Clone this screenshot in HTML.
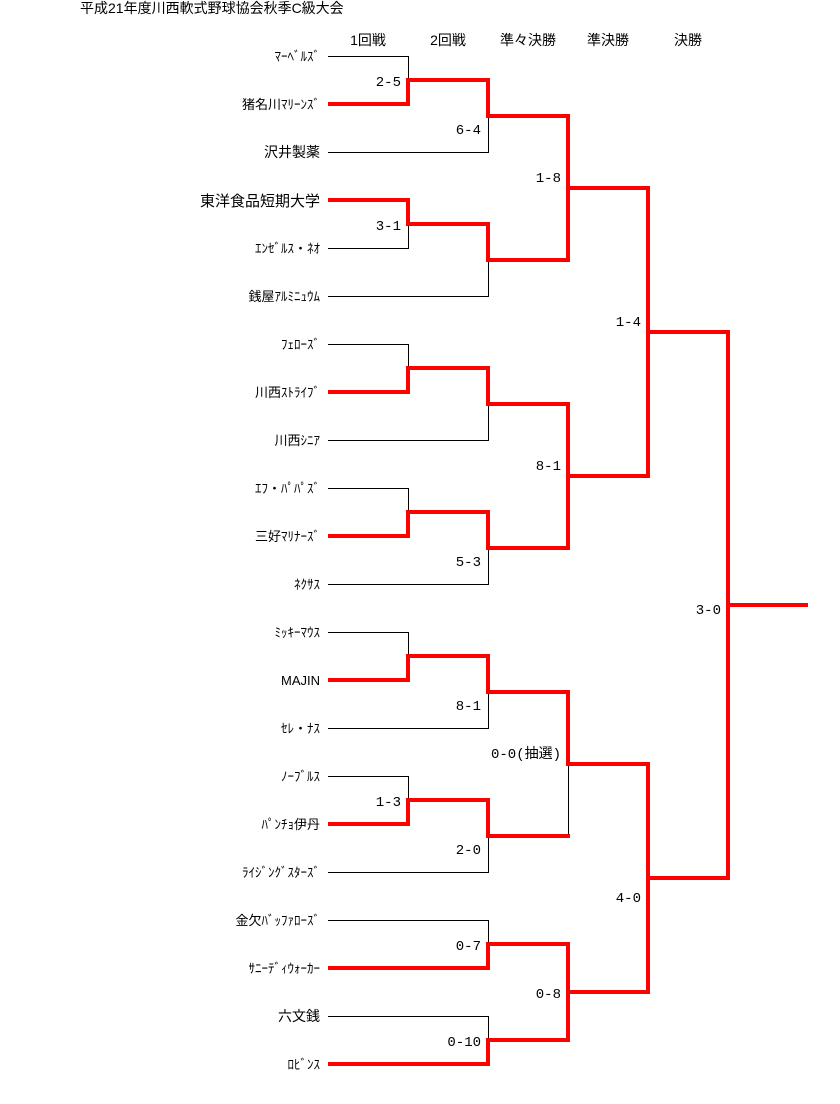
<!DOCTYPE html>
<html><head><meta charset="utf-8"><style>
html,body{margin:0;padding:0;background:#fff;width:840px;height:1104px;overflow:hidden}
text{font-family:"Liberation Sans","Noto Sans CJK JP",sans-serif;fill:#000}
.m text{font-family:"Liberation Mono","Noto Sans CJK JP",monospace}
</style></head><body>
<svg width="840" height="1104" xmlns="http://www.w3.org/2000/svg">
<text x="80" y="13" font-size="14">平成21年度川西軟式野球協会秋季C級大会</text>
<g font-size="14" text-anchor="middle">
<text x="368" y="45">1回戦</text><text x="448" y="45">2回戦</text><text x="528" y="45">準々決勝</text><text x="608" y="45">準決勝</text><text x="688" y="45">決勝</text>
</g>
<g font-size="13" text-anchor="end">
<text x="320" y="61">ﾏｰﾍﾞﾙｽﾞ</text>
<text x="320" y="109">猪名川ﾏﾘｰﾝｽﾞ</text>
<text x="320" y="157" font-size="14">沢井製薬</text>
<text x="320" y="206" font-size="15">東洋食品短期大学</text>
<text x="320" y="253">ｴﾝｾﾞﾙｽ・ﾈｵ</text>
<text x="320" y="301">銭屋ｱﾙﾐﾆｭｳﾑ</text>
<text x="320" y="349">ﾌｪﾛｰｽﾞ</text>
<text x="320" y="397">川西ｽﾄﾗｲﾌﾞ</text>
<text x="320" y="445">川西ｼﾆｱ</text>
<text x="320" y="493">ｴﾌ・ﾊﾟﾊﾟｽﾞ</text>
<text x="320" y="541">三好ﾏﾘﾅｰｽﾞ</text>
<text x="320" y="589">ﾈｸｻｽ</text>
<text x="320" y="637">ﾐｯｷｰﾏｳｽ</text>
<text x="320" y="685">MAJIN</text>
<text x="320" y="733">ｾﾚ・ﾅｽ</text>
<text x="320" y="781">ﾉｰﾌﾞﾙｽ</text>
<text x="320" y="829">ﾊﾟﾝﾁｮ伊丹</text>
<text x="320" y="877">ﾗｲｼﾞﾝｸﾞｽﾀｰｽﾞ</text>
<text x="320" y="925">金欠ﾊﾞｯﾌｧﾛｰｽﾞ</text>
<text x="320" y="973">ｻﾆｰﾃﾞｨｳｫｰｶｰ</text>
<text x="320" y="1021" font-size="14">六文銭</text>
<text x="320" y="1069">ﾛﾋﾞﾝｽ</text>
</g>
<g class="m" font-size="14" text-anchor="end">
<text x="401" y="86">2-5</text><text x="481" y="134">6-4</text><text x="561" y="182">1-8</text>
<text x="401" y="230">3-1</text><text x="641" y="326">1-4</text><text x="561" y="470">8-1</text>
<text x="481" y="566">5-3</text><text x="481" y="710">8-1</text><text x="561" y="758">0-0(抽選)</text>
<text x="401" y="806">1-3</text><text x="481" y="854">2-0</text><text x="481" y="950">0-7</text>
<text x="561" y="998">0-8</text><text x="481" y="1046">0-10</text><text x="641" y="902">4-0</text>
<text x="721" y="614">3-0</text>
</g>
<g stroke="#000" stroke-width="1" fill="none" shape-rendering="crispEdges">
<path d="M328 56.5H408.5V104 M328 152.5H488.5V116 M408.5 80V104"/>
<path d="M328 248.5H408.5V224 M328 296.5H488.5V260"/>
<path d="M568.5 116V188 M328 344.5H408.5V368 M328 440.5H488.5V404"/>
<path d="M328 488.5H408.5V512 M328 584.5H488.5V548"/>
<path d="M648.5 188V332 M648.5 332V476"/>
<path d="M328 632.5H408.5V656 M328 728.5H488.5V692 M328 776.5H408.5V800 M328 872.5H488.5V836"/>
<path d="M568.5 764V836 M328 920.5H488.5V944 M328 1016.5H488.5V1040"/>
<path d="M728.5 332V605 M728.5 605V878 M648.5 878V992"/>
</g>
<g stroke="#f00" stroke-width="4" fill="none" stroke-linejoin="miter" stroke-linecap="square">
<path d="M330 104H408V80H488V116H568V188H648V332H728V605H806"/>
<path d="M330 200H408V224H488V260H568V188"/>
<path d="M330 392H408V368H488V404H568V476H648V332"/>
<path d="M330 536H408V512H488V548H568V476"/>
<path d="M330 680H408V656H488V692H568V764H648V878H728V605"/>
<path d="M330 824H408V800H488V836H568"/>
<path d="M330 968H488V944H568V992H648V878"/>
<path d="M330 1064H488V1040H568V992"/>
</g>
</svg>
</body></html>
